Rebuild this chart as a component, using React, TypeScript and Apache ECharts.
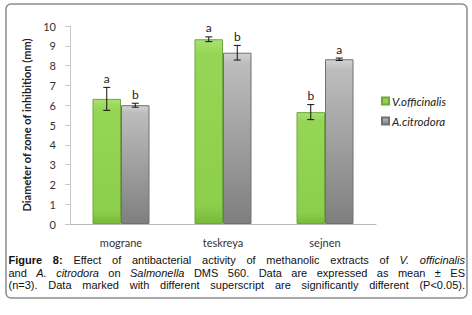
import React, { useEffect, useRef } from "react";
import * as echarts from "echarts";

const categories = ["mograne", "teskreya", "sejnen"];
const seriesNames = ["V.officinalis", "A.citrodora"];
const vValues = [6.32, 9.33, 5.65];
const aValues = [6.0, 8.65, 8.32];
const vErr = [0.58, 0.12, 0.38];
const aErr = [0.1, 0.37, 0.06];
const vLetters = ["a", "a", "b"];
const aLetters = ["b", "b", "a"];
const yTicks = [0, 1, 2, 3, 4, 5, 6, 7, 8, 9, 10];

// caption lines: [text, style] segments; style: b = bold, i = italic, n = normal
const captionLines: [string, string][][] = [
  [["Figure 8:", "b"], ["Effect of antibacterial activity of methanolic extracts of", "n"], ["V. officinalis", "i"]],
  [["and", "n"], ["A. citrodora", "i"], ["on", "n"], ["Salmonella", "i"], ["DMS 560. Data are expressed as mean ± ES", "n"]],
  [["(n=3). Data marked with different superscript are significantly different (P<0.05).", "n"]],
];

const BAR_W = 28.5;
const CAP_FONT = 11;
const CAP_FAMILY = '"Liberation Sans", Arial, sans-serif';

function fontFor(style: string) {
  const w = style === "b" ? "bold " : "";
  const s = style === "i" ? "italic " : "";
  return `${s}${w}${CAP_FONT}px ${CAP_FAMILY}`;
}

function buildCaption(): any[] {
  const canvas = document.createElement("canvas");
  const ctx = canvas.getContext("2d")!;
  const left = 8.5;
  const right = 465;
  const ys = [260.2, 272.6, 285.0];
  const els: any[] = [];
  captionLines.forEach((segs, li) => {
    const words: { t: string; s: string; w: number }[] = [];
    segs.forEach(([txt, st]) => {
      txt.split(" ").forEach((t) => {
        ctx.font = fontFor(st);
        words.push({ t, s: st, w: ctx.measureText(t).width });
      });
    });
    const total = words.reduce((a, b) => a + b.w, 0);
    const gap = (right - left - total) / (words.length - 1);
    let x = left;
    words.forEach((wd) => {
      els.push({
        type: "text",
        x,
        y: ys[li],
        style: {
          text: wd.t,
          font: fontFor(wd.s),
          lineHeight: 11,
          fill: "#111",
          verticalAlign: "middle",
          align: "left",
        },
      });
      x += wd.w + gap;
    });
  });
  return els;
}

function makeErrSeries(idx: number, values: number[], errs: number[], letters: string[]) {
  const offset = idx === 0 ? -BAR_W / 2 : BAR_W / 2;
  return {
    type: "custom",
    z: 10,
    data: values.map((v, i) => [i, v, errs[i], letters[i]]),
    renderItem: (params: any, api: any) => {
      const ci = api.value(0);
      const v = api.value(1);
      const e = api.value(2);
      const top = api.coord([ci, v + e]);
      const bot = api.coord([ci, v - e]);
      const x = top[0] + offset;
      const cap = 3.5;
      const st = { stroke: "#111", lineWidth: 1 };
      return {
        type: "group",
        children: [
          { type: "line", shape: { x1: x, y1: top[1], x2: x, y2: bot[1] }, style: st },
          { type: "line", shape: { x1: x - cap, y1: top[1], x2: x + cap, y2: top[1] }, style: st },
          { type: "line", shape: { x1: x - cap, y1: bot[1], x2: x + cap, y2: bot[1] }, style: st },
          {
            type: "text",
            x,
            y: top[1] - 3,
            style: {
              text: letters[ci],
              font: '12px Lato, "Open Sans", sans-serif',
              fill: "#222",
              align: "center",
              verticalAlign: "bottom",
            },
          },
        ],
      };
    },
    silent: true,
  };
}

export default function App() {
  const ref = useRef<HTMLDivElement>(null);
  useEffect(() => {
    if (!ref.current) return;
    const chart = echarts.init(ref.current, null, { renderer: "svg" });
    const green = new echarts.graphic.LinearGradient(0, 0, 0, 1, [
      { offset: 0, color: "#a9e06e" },
      { offset: 0.08, color: "#96d656" },
      { offset: 0.9, color: "#8ccf4c" },
      { offset: 1, color: "#78b83c" },
    ]);
    const gray = new echarts.graphic.LinearGradient(0, 0, 0, 1, [
      { offset: 0, color: "#d2d2d2" },
      { offset: 0.06, color: "#bdbdbd" },
      { offset: 1, color: "#7f7f7f" },
    ]);
    const option: any = {
      animation: false,
      backgroundColor: "#ffffff",
      grid: { left: 70, right: 96, top: 26, bottom: 91, containLabel: false },
      legend: {
        orient: "vertical",
        left: 376,
        top: 90,
        itemWidth: 7,
        itemHeight: 7,
        itemGap: 8,
        icon: "rect",
        data: seriesNames,
        textStyle: {
          fontFamily: 'Lato, "Open Sans", sans-serif',
          fontStyle: "italic",
          fontSize: 11.5,
          color: "#222",
          padding: [0, 0, 0, -2],
        },
      },
      xAxis: {
        type: "category",
        data: categories,
        axisLine: { lineStyle: { color: "#b8b8b8", width: 1 } },
        axisTick: { show: false },
        axisLabel: {
          margin: 13,
          fontFamily: 'Lato, "Open Sans", sans-serif',
          fontSize: 11,
          color: "#333",
        },
      },
      yAxis: {
        type: "value",
        min: yTicks[0],
        max: yTicks[yTicks.length - 1],
        interval: 1,
        name: "Diameter of zone of inhibition (mm)",
        nameLocation: "middle",
        nameGap: 37,
        nameTextStyle: {
          fontFamily: 'Lato, "Open Sans", sans-serif',
          fontSize: 11,
          fontWeight: "bold",
          color: "#222",
        },
        axisLine: { show: true, lineStyle: { color: "#c8c8c8" } },
        axisTick: { show: true, length: 5, lineStyle: { color: "#c8c8c8" } },
        splitLine: { show: false },
        axisLabel: {
          margin: 14,
          fontFamily: 'Lato, "Open Sans", sans-serif',
          fontSize: 11,
          color: "#333",
        },
      },
      series: [
        {
          name: seriesNames[0],
          type: "bar",
          barWidth: BAR_W,
          barGap: "0%",
          data: vValues,
          itemStyle: { color: green, borderColor: "#6fa83a", borderWidth: 1 },
        },
        {
          name: seriesNames[1],
          type: "bar",
          barWidth: BAR_W,
          barGap: "0%",
          data: aValues,
          itemStyle: { color: gray, borderColor: "#707070", borderWidth: 1 },
        },
        makeErrSeries(0, vValues, vErr, vLetters),
        makeErrSeries(1, aValues, aErr, aLetters),
      ],
      color: ["#92d050", "#a6a6a6"],
      graphic: [
        {
          type: "rect",
          shape: { x: 6, y: 4, width: 461, height: 294, r: 5 },
          style: { fill: "none", stroke: "#8c8c8c", lineWidth: 1.5 },
          silent: true,
        },
        ...buildCaption(),
      ],
    };
    chart.setOption(option);
    return () => chart.dispose();
  }, []);
  return (
    <div
      ref={ref}
      style={{ position: "fixed", left: 0, top: 0, width: 472, height: 315 }}
    />
  );
}
